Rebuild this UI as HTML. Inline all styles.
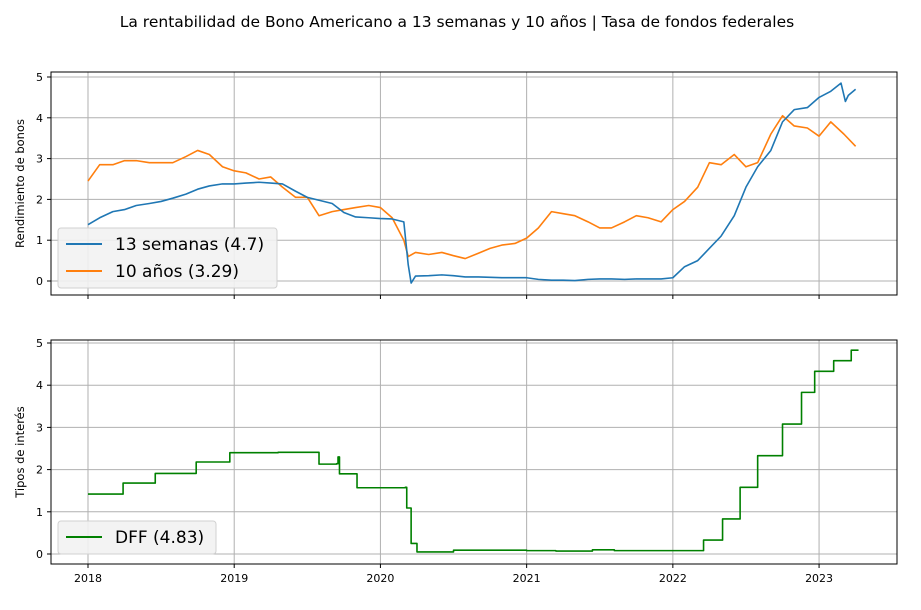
<!DOCTYPE html>
<html><head><meta charset="utf-8"><style>
body{margin:0;background:#fff;font-family:"Liberation Sans","DejaVu Sans",sans-serif}
svg text{font-family:"DejaVu Sans","Liberation Sans",sans-serif}
</style></head><body>
<svg id="c" width="921" height="605" xmlns="http://www.w3.org/2000/svg">
<text x="457" y="27" font-size="15.5" text-anchor="middle">La rentabilidad de Bono Americano a 13 semanas y 10 años | Tasa de fondos federales</text>
</svg>
<script>
const years=[2018,2019,2020,2021,2022,2023];
const yTicks=[0,1,2,3,4,5];
const dates13=[2018.0,2018.08,2018.17,2018.25,2018.33,2018.42,2018.5,2018.58,2018.67,2018.75,2018.83,2018.92,2019.0,2019.08,2019.17,2019.25,2019.33,2019.42,2019.5,2019.58,2019.67,2019.75,2019.83,2019.92,2020.0,2020.08,2020.16,2020.19,2020.21,2020.24,2020.33,2020.42,2020.5,2020.58,2020.67,2020.75,2020.83,2020.92,2021.0,2021.08,2021.17,2021.25,2021.33,2021.42,2021.5,2021.58,2021.67,2021.75,2021.83,2021.92,2022.0,2022.08,2022.17,2022.25,2022.33,2022.42,2022.5,2022.58,2022.67,2022.75,2022.83,2022.92,2023.0,2023.08,2023.15,2023.18,2023.2,2023.25];
const vals13=[1.38,1.55,1.70,1.75,1.85,1.90,1.95,2.03,2.13,2.25,2.33,2.38,2.38,2.40,2.42,2.40,2.38,2.20,2.05,1.98,1.90,1.68,1.57,1.55,1.53,1.52,1.45,0.40,-0.05,0.12,0.13,0.15,0.13,0.10,0.10,0.09,0.08,0.08,0.08,0.04,0.02,0.02,0.01,0.04,0.05,0.05,0.04,0.05,0.05,0.05,0.08,0.35,0.50,0.80,1.10,1.60,2.30,2.80,3.20,3.90,4.20,4.25,4.50,4.65,4.85,4.40,4.55,4.70];
const dates10=[2018.0,2018.08,2018.17,2018.25,2018.33,2018.42,2018.5,2018.58,2018.67,2018.75,2018.83,2018.92,2019.0,2019.08,2019.17,2019.25,2019.33,2019.42,2019.5,2019.58,2019.67,2019.75,2019.83,2019.92,2020.0,2020.08,2020.16,2020.19,2020.24,2020.33,2020.42,2020.5,2020.58,2020.67,2020.75,2020.83,2020.92,2021.0,2021.08,2021.17,2021.25,2021.33,2021.42,2021.5,2021.58,2021.67,2021.75,2021.83,2021.92,2022.0,2022.08,2022.17,2022.25,2022.33,2022.42,2022.5,2022.58,2022.67,2022.75,2022.83,2022.92,2023.0,2023.08,2023.17,2023.25];
const vals10=[2.45,2.85,2.85,2.95,2.95,2.90,2.90,2.90,3.05,3.20,3.10,2.80,2.70,2.65,2.50,2.55,2.30,2.05,2.05,1.60,1.70,1.75,1.80,1.85,1.80,1.55,1.00,0.60,0.70,0.65,0.70,0.62,0.55,0.68,0.80,0.88,0.92,1.05,1.30,1.70,1.65,1.60,1.45,1.30,1.30,1.45,1.60,1.55,1.45,1.75,1.95,2.30,2.90,2.85,3.10,2.80,2.90,3.60,4.05,3.80,3.75,3.55,3.90,3.60,3.30];
const datesDff=[2018.0,2018.24,2018.46,2018.74,2018.97,2019.3,2019.58,2019.7,2019.71,2019.72,2019.84,2020.17,2020.18,2020.21,2020.25,2020.5,2021.0,2021.2,2021.45,2021.6,2022.21,2022.34,2022.46,2022.58,2022.75,2022.88,2022.97,2023.1,2023.22,2023.27];
const valsDff=[1.42,1.68,1.91,2.18,2.40,2.41,2.13,2.14,2.30,1.90,1.57,1.58,1.09,0.25,0.05,0.09,0.08,0.07,0.10,0.08,0.33,0.83,1.58,2.33,3.08,3.83,4.33,4.58,4.83,4.83];

const svg=document.getElementById('c');const NS='http://www.w3.org/2000/svg';
const X0=51,X1=897,T0=2017.747,T1=2023.533;
const xs=t=>X0+(t-T0)/(T1-T0)*(X1-X0);
function mk(tag,at,parent){const e=document.createElementNS(NS,tag);for(const k in at)e.setAttribute(k,at[k]);(parent||svg).appendChild(e);return e;}
function axes(name,top,bot,y0,y5,label,showX){
  const ys=v=>y0+(y5-y0)*v/5;
  const g=mk('g',{});
  
  
  years.forEach(y=>{const l=mk('line',{x1:xs(y),x2:xs(y),y1:top,y2:bot,stroke:'#b0b0b0','stroke-width':1},g);
    mk('line',{x1:xs(y),x2:xs(y),y1:bot,y2:bot+4,stroke:'#000'},g);
    if(showX){const t=mk('text',{x:xs(y),y:bot+18,'font-size':11,'text-anchor':'middle'},g);t.textContent=y;}});
  yTicks.forEach(v=>{const l=mk('line',{x1:X0,x2:X1,y1:ys(v),y2:ys(v),stroke:'#b0b0b0'},g);
    mk('line',{x1:X0-4,x2:X0,y1:ys(v),y2:ys(v),stroke:'#000'},g);
    const t=mk('text',{x:X0-8,y:ys(v)+4,'font-size':11,'text-anchor':'end'},g);t.textContent=v;});
  const yl=mk('text',{x:0,y:0,'font-size':11.5,'text-anchor':'middle',transform:`translate(24,${(top+bot)/2}) rotate(-90)`},g);yl.textContent=label;
  
  return {g,ys,frame:()=>{const r=mk('rect',{x:X0,y:top,width:X1-X0,height:bot-top,fill:'none',stroke:'#000','stroke-width':1},g);}};
}
function line(d,v,ys,color,name,step){let p='';d.forEach((t,i)=>{if(step&&i>0)p+=`L${xs(t)},${ys(v[i-1])}`;p+=(i?'L':'M')+xs(t)+','+ys(v[i]);});
  const e=mk('path',{d:p,fill:'none',stroke:color,'stroke-width':1.6,'stroke-linejoin':'round'});}
const a=axes('top-axes',72,295,281,77,'Rendimiento de bonos',false);
line(dates10,vals10,a.ys,'#ff7f0e','line-10-anos');
line(dates13,vals13,a.ys,'#1f77b4','line-13-semanas');
a.frame();
const b=axes('bottom-axes',340,564,554,343,'Tipos de interés',true);
line(datesDff,valsDff,b.ys,'#008000','line-dff',true);
b.frame();
function legend(x,y,w,entries,name){const g=mk('g',{});
  mk('rect',{x,y,width:w,height:entries.length*27+6,rx:3,fill:'#f2f2f2',stroke:'#d0d0d0','fill-opacity':0.9},g);
  entries.forEach((en,i)=>{const cy=y+16+i*27;mk('line',{x1:x+8,x2:x+44,y1:cy,y2:cy,stroke:en[1],'stroke-width':2},g);
    const t=mk('text',{x:x+57,y:cy+6,'font-size':17},g);t.textContent=en[0];});}
legend(58,228,219,[['13 semanas (4.7)','#1f77b4'],['10 años (3.29)','#ff7f0e']],'legend-top');
legend(58,521,158,[['DFF (4.83)','#008000']],'legend-bottom');
</script>
</body></html>
